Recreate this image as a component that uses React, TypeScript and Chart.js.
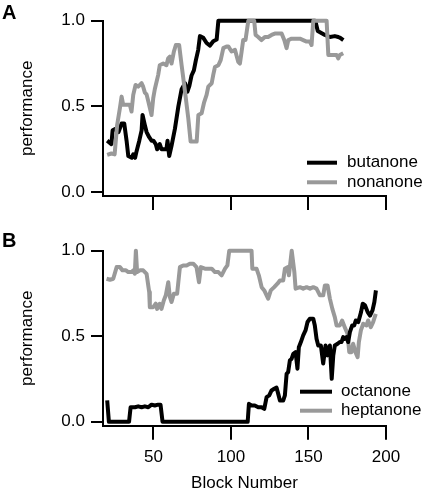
import React, { useEffect, useRef } from "react";
import { Chart, registerables } from "chart.js";

Chart.register(...registerables);

// ---- data (x = block number, y = performance) ----
const butanone: [number, number][] = [
  [20.2, 0.3], [22.9, 0.28], [23.7, 0.36], [25.9, 0.37], [27.5, 0.35], [29.5, 0.4], [31.2, 0.4],
  [32.7, 0.3], [33.8, 0.21], [36, 0.2], [37, 0.22], [38.2, 0.2], [39.2, 0.24], [40.9, 0.3],
  [42.4, 0.36], [43, 0.45], [44.5, 0.39], [45.6, 0.35], [47.3, 0.32], [48.8, 0.3], [50, 0.3],
  [51.5, 0.28], [52.4, 0.25], [54.1, 0.28], [55.2, 0.25], [57.3, 0.25], [58.4, 0.25], [59.1, 0.3],
  [60.2, 0.21], [61.7, 0.27], [63.9, 0.37], [66.1, 0.5], [68.2, 0.6], [70.4, 0.635], [71.9, 0.585],
  [73.2, 0.62], [74.6, 0.68], [76.1, 0.71], [77.4, 0.77], [78.9, 0.83], [80, 0.91], [82.2, 0.9],
  [84.3, 0.87], [86.5, 0.855], [88.6, 0.88], [90.8, 0.89], [91.9, 1.0], [154.4, 1.0], [156, 0.94],
  [158, 0.93], [160.6, 0.917], [163.8, 0.905], [167, 0.91], [169.2, 0.905], [170.5, 0.9], [172.5, 0.887],
];

const nonanone: [number, number][] = [
  [20.2, 0.217], [22.9, 0.225], [25, 0.22], [26.6, 0.39], [28.4, 0.49], [29.5, 0.557], [30.5, 0.51],
  [32.7, 0.51], [34.8, 0.51], [35.9, 0.47], [37, 0.567], [38.5, 0.625], [40.2, 0.615], [42.4, 0.635],
  [43.4, 0.615], [44.5, 0.58], [45.6, 0.57], [46.7, 0.53], [48.8, 0.45], [49.9, 0.548], [50.9, 0.6],
  [53.1, 0.684], [54.1, 0.74], [56.3, 0.75], [58.4, 0.74], [59.5, 0.78], [60.6, 0.79], [61.7, 0.75],
  [63.2, 0.82], [64.5, 0.858], [66.6, 0.858], [68.2, 0.74], [70.4, 0.585], [72.5, 0.43], [74, 0.295],
  [77.9, 0.295], [79, 0.45], [81.1, 0.46], [82.6, 0.52], [84.3, 0.567], [85.4, 0.615], [87.6, 0.635],
  [88.6, 0.684], [89.7, 0.73], [91.9, 0.74], [93.4, 0.77], [95.1, 0.84], [97.2, 0.85], [98.3, 0.85],
  [100.4, 0.82], [102.6, 0.83], [104.7, 0.76], [105.8, 0.75], [106.9, 0.82], [107.9, 0.887], [109.4, 0.887],
  [111.2, 1.0], [113.3, 1.0], [115, 1.0], [115.9, 0.917], [117.6, 0.905], [119.7, 0.887], [121.9, 0.905],
  [124, 0.905], [126.2, 0.917], [128.3, 0.925], [130.5, 0.925], [132.7, 0.925], [134.4, 0.887], [135.9, 0.84],
  [137, 0.887], [139.1, 0.895], [142.3, 0.895], [144.5, 0.895], [146.6, 0.887], [148.8, 0.878], [150.9, 0.878],
  [152, 0.858], [153.1, 1.0], [156, 1.0], [159, 1.0], [161.7, 1.0], [162.8, 0.8], [166, 0.8], [168.1, 0.8],
  [169.2, 0.78], [170.2, 0.8], [172.4, 0.81],
];

const octanone: [number, number][] = [
  [20.2, 0.125], [21.3, 0], [34.3, 0], [35.3, 0.085], [38.1, 0.085], [40.2, 0.09], [42.4, 0.085],
  [44.5, 0.09], [46.7, 0.085], [48.8, 0.1], [50.9, 0.095], [53.1, 0.1], [54.6, 0.1], [55.9, 0],
  [110.8, 0], [111.6, 0.105], [113.3, 0.095], [115.4, 0.095], [117.6, 0.085], [119.8, 0.085], [121.5, 0.075],
  [123, 0.144], [124.7, 0.154], [126.2, 0.183], [127.9, 0.193], [129.4, 0.2], [130.5, 0.163], [131.6, 0.124],
  [133.7, 0.124], [134.8, 0.154], [135.9, 0.28], [136.9, 0.29], [138, 0.358], [139.1, 0.368], [140.2, 0.397],
  [141.7, 0.407], [142.9, 0.31], [143.8, 0.436], [145.1, 0.466], [146.6, 0.505], [148.1, 0.534], [149.4, 0.583],
  [150.9, 0.602], [153.1, 0.602], [154.1, 0.563], [155.2, 0.485], [156.3, 0.446], [158, 0.446], [159.5, 0.34],
  [161, 0.446], [162.3, 0.388], [163.8, 0.446], [165, 0.251], [166, 0.388], [167, 0.446], [168.8, 0.456],
  [170.2, 0.466], [171.3, 0.466], [172.4, 0.495], [173.4, 0.485], [174.5, 0.495], [175.6, 0.466], [176.7, 0.524],
  [178.2, 0.563], [179.5, 0.563], [180.5, 0.592], [182.1, 0.582], [183.9, 0.641], [185, 0.69], [186.5, 0.68],
  [188.2, 0.641], [189.7, 0.621], [191.3, 0.651], [192.5, 0.7], [193.5, 0.768],
];

const heptanone: [number, number][] = [
  [19.8, 0.836], [22, 0.83], [24.1, 0.836], [26.3, 0.904], [28.4, 0.904], [30.1, 0.885], [32.3, 0.885],
  [33.8, 0.875], [35.9, 0.875], [37, 0.885], [38, 0.865], [38.7, 1.0], [39.5, 0.875], [41.3, 0.885],
  [43.4, 0.885], [45.6, 0.865], [47.3, 0.758], [47.7, 0.67], [49.9, 0.67], [51.5, 0.69], [52.4, 0.66],
  [54.1, 0.69], [55.2, 0.66], [56.7, 0.709], [58, 0.739], [59.6, 0.816], [60.6, 0.73], [61.7, 0.7],
  [63.2, 0.748], [65.3, 0.748], [67.1, 0.904], [69.2, 0.914], [71.4, 0.914], [73.5, 0.924], [75.7, 0.924],
  [77.8, 0.904], [79.4, 0.816], [80.6, 0.904], [83.2, 0.895], [85.4, 0.895], [87.6, 0.895], [89.7, 0.875],
  [91.9, 0.875], [94, 0.856], [96.2, 0.895], [97.7, 0.914], [98.9, 1.0], [113.3, 1.0], [113.8, 0.895],
  [116.5, 0.895], [118, 0.856], [119.8, 0.787], [121.5, 0.768], [123, 0.739], [124, 0.72], [125.7, 0.768],
  [127.9, 0.787], [130, 0.807], [131.6, 0.826], [133.7, 0.826], [134.8, 0.895], [136.5, 0.904], [137.4, 0.856],
  [139.2, 1.0], [140.9, 0.875], [141.7, 0.778], [144.5, 0.787], [146.6, 0.778], [148.8, 0.787], [151, 0.778],
  [153.1, 0.787], [155.2, 0.778], [157.4, 0.739], [159.5, 0.739], [160.6, 0.797], [162.3, 0.797], [163.8, 0.72],
  [165.4, 0.66], [167, 0.612], [168.1, 0.563], [170.2, 0.563], [171.7, 0.592], [173.4, 0.553], [175.2, 0.514],
  [176.3, 0.407], [177.7, 0.407], [178.8, 0.456], [180.3, 0.407], [181.7, 0.378], [182.5, 0.466], [183.8, 0.534],
  [185.3, 0.573], [187.4, 0.563], [188.5, 0.592], [190.2, 0.553], [191.7, 0.582], [193.4, 0.631],
];

const xTicks = [50, 100, 150, 200];
const yTicks = [0, 0.5, 1.0];

const FONT = "'Liberation Sans', Arial, Helvetica, sans-serif";
const BLACK = "#000000";
const GRAY = "#999999";

const inlineLegend = {
  id: "inlineLegend",
  afterDatasetsDraw(chart: any, _args: any, opts: any) {
    const ctx = chart.ctx;
    ctx.save();
    chart.data.datasets.forEach((ds: any, i: number) => {
      const yy = opts.y + i * opts.gap;
      ctx.strokeStyle = ds.borderColor;
      ctx.lineWidth = 4;
      ctx.beginPath();
      ctx.moveTo(opts.x, yy);
      ctx.lineTo(opts.x + opts.lineLen, yy);
      ctx.stroke();
      ctx.fillStyle = BLACK;
      ctx.font = `17px ${FONT}`;
      ctx.textBaseline = "middle";
      ctx.textAlign = "left";
      ctx.fillText(ds.label, opts.x + opts.lineLen + opts.textGap, yy);
    });
    ctx.restore();
  },
};

function toPoints(arr: [number, number][]) {
  return arr.map(([x, y]) => ({ x, y }));
}

type PanelCfg = {
  series: { label: string; data: [number, number][]; color: string; order: number }[];
  padTop: number;
  xHeight: number;
  showXLabels: boolean;
  legend: { x: number; y: number; gap: number; lineLen: number; textGap: number };
};

function makeChart(canvas: HTMLCanvasElement, cfg: PanelCfg) {
  return new Chart(canvas, {
    type: "line",
    data: {
      datasets: cfg.series.map((s) => ({
        label: s.label,
        data: toPoints(s.data),
        borderColor: s.color,
        backgroundColor: s.color,
        borderWidth: 4,
        borderJoinStyle: "round",
        borderCapStyle: "butt",
        pointRadius: 0,
        tension: 0,
        fill: false,
        clip: 6,
        order: s.order,
      })),
    },
    options: {
      responsive: false,
      animation: false,
      devicePixelRatio: 1,
      layout: { padding: { top: cfg.padTop, right: 39, left: 0, bottom: 0 } },
      plugins: {
        legend: { display: false },
        tooltip: { enabled: false },
        inlineLegend: cfg.legend,
      } as any,
      scales: {
        x: {
          type: "linear",
          min: 17.5,
          max: 200,
          afterBuildTicks: (s: any) => {
            s.ticks = xTicks.map((v) => ({ value: v }));
          },
          afterFit: (s: any) => {
            s.height = cfg.xHeight;
          },
          ticks: {
            display: cfg.showXLabels,
            color: BLACK,
            font: { size: 17, family: FONT },
            padding: 7,
            maxRotation: 0,
            autoSkip: false,
          },
          grid: { drawOnChartArea: false, drawTicks: true, tickLength: 14, color: BLACK, lineWidth: 2 },
          border: { display: true, color: BLACK, width: 2 },
          title: {
            display: cfg.showXLabels,
            text: "Block Number",
            color: BLACK,
            font: { size: 17, family: FONT, lineHeight: 0.7 },
            padding: { top: 0, bottom: 0.4 },
          },
        },
        y: {
          type: "linear",
          min: -0.023,
          max: 1,
          afterBuildTicks: (s: any) => {
            s.ticks = yTicks.map((v) => ({ value: v }));
          },
          afterFit: (s: any) => {
            s.width = 103;
          },
          ticks: {
            color: BLACK,
            font: { size: 17, family: FONT },
            padding: 6,
            callback: (v: any) => Number(v).toFixed(1),
          },
          grid: { drawOnChartArea: false, drawTicks: true, tickLength: 12, color: BLACK, lineWidth: 2 },
          border: { display: true, color: BLACK, width: 2 },
          title: {
            display: true,
            text: "performance",
            color: BLACK,
            font: { size: 17, family: FONT },
            padding: { top: 17, bottom: 0 },
          },
        },
      },
    } as any,
    plugins: [inlineLegend as any],
  });
}

export default function App() {
  const topRef = useRef<HTMLCanvasElement>(null);
  const botRef = useRef<HTMLCanvasElement>(null);

  useEffect(() => {
    const top = makeChart(topRef.current!, {
      series: [
        { label: "butanone", data: butanone, color: BLACK, order: 1 },
        { label: "nonanone", data: nonanone, color: GRAY, order: 0 },
      ],
      padTop: 20.7,
      xHeight: 19,
      showXLabels: false,
      legend: { x: 307, y: 162.7, gap: 19.6, lineLen: 30, textGap: 10 },
    });
    const bot = makeChart(botRef.current!, {
      series: [
        { label: "octanone", data: octanone, color: BLACK, order: 0 },
        { label: "heptanone", data: heptanone, color: GRAY, order: 1 },
      ],
      padTop: 35.7,
      xHeight: 64.3,
      showXLabels: true,
      legend: { x: 300, y: 176.7, gap: 19, lineLen: 32, textGap: 9 },
    });
    return () => {
      top.destroy();
      bot.destroy();
    };
  }, []);

  const labelStyle: React.CSSProperties = {
    position: "absolute",
    left: 2,
    fontFamily: FONT,
    fontWeight: "bold",
    fontSize: 20,
    lineHeight: "20px",
    color: BLACK,
  };

  return (
    <div style={{ position: "absolute", left: 0, top: 0, width: 425, height: 490, background: "#fff", overflow: "hidden" }}>
      <canvas ref={topRef} width={425} height={215} style={{ position: "absolute", left: 0, top: 0, width: 425, height: 215 }} />
      <canvas ref={botRef} width={425} height={275} style={{ position: "absolute", left: 0, top: 215, width: 425, height: 275 }} />
      <div style={{ ...labelStyle, top: 1.5 }}>A</div>
      <div style={{ ...labelStyle, top: 229.7 }}>B</div>
    </div>
  );
}
